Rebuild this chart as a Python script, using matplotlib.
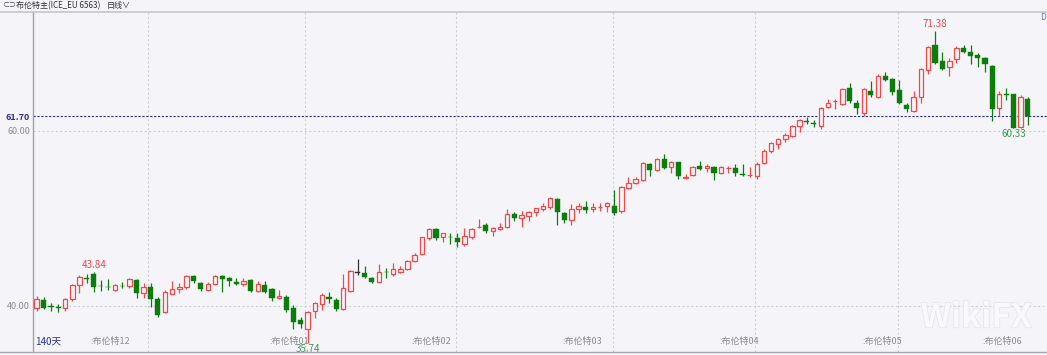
# 布伦特主 日线 K线图
import matplotlib
matplotlib.use("Agg")
import matplotlib.pyplot as plt
import matplotlib.patheffects as pe
import numpy as np

plt.rcParams['font.family'] = ['Noto Sans CJK SC', 'DejaVu Sans']
plt.rcParams['axes.unicode_minus'] = False

# ---- 数据 (140 根日K) ----
opens = [
    39.74, 40.65, 39.96, 39.84, 39.74, 40.76, 42.40, 43.20, 43.62, 42.32,
    42.17, 41.83, 42.32, 42.29, 42.97, 41.45, 42.21, 40.76, 39.28, 41.37,
    41.90, 42.14, 43.43, 42.67, 41.87, 42.48, 43.47, 43.17, 42.70, 42.48,
    42.97, 41.72, 42.40, 41.90, 40.87, 41.07, 39.81, 38.40, 37.37, 39.43,
    40.23, 41.00, 40.69, 39.66, 41.75, 43.81, 43.73, 43.20, 42.78, 43.88,
    43.70, 43.92, 44.19, 45.14, 45.91, 47.73, 48.76, 47.92, 47.88, 47.81,
    47.05, 47.92, 48.97, 49.26, 48.61, 48.80, 48.99, 50.48, 50.10, 50.29,
    50.71, 51.09, 51.27, 52.23, 50.67, 49.83, 51.05, 51.35, 51.05, 51.33,
    51.43, 51.47, 50.89, 53.45, 54.02, 54.40, 56.19, 55.54, 56.76, 55.85,
    56.42, 54.68, 54.97, 56.00, 55.81, 55.92, 55.24, 55.79, 55.81, 55.12,
    54.99, 54.86, 56.30, 57.75, 58.48, 59.05, 59.43, 60.57, 61.18, 60.95,
    60.57, 62.70, 63.45, 63.09, 64.95, 63.24, 62.02, 64.61, 63.92, 66.32,
    65.90, 64.69, 62.97, 62.29, 63.92, 66.97, 69.83, 67.99, 67.28, 68.23,
    69.45, 68.99, 68.69, 68.30, 67.43, 62.59, 64.23, 64.19, 60.42, 63.66,
]
highs = [
    41.18, 40.99, 40.38, 40.19, 40.95, 42.48, 43.54, 43.66, 43.84, 42.97,
    43.09, 42.51, 42.78, 43.16, 43.09, 42.59, 42.59, 41.07, 41.83, 42.86,
    42.67, 43.54, 43.54, 42.78, 42.71, 43.54, 43.54, 43.35, 43.24, 43.24,
    43.09, 42.86, 42.86, 42.02, 41.83, 41.26, 40.11, 38.78, 39.43, 40.50,
    41.45, 41.64, 40.88, 43.62, 44.11, 45.37, 44.57, 43.35, 44.76, 44.30,
    44.95, 44.57, 45.30, 46.10, 47.92, 48.95, 48.95, 48.38, 48.30, 48.30,
    48.88, 48.95, 49.94, 49.45, 49.07, 49.45, 51.05, 50.71, 50.86, 50.86,
    51.24, 51.81, 52.49, 52.30, 50.78, 51.66, 51.81, 52.00, 51.73, 51.73,
    51.92, 53.26, 53.71, 54.70, 54.78, 56.49, 56.30, 56.88, 57.37, 56.57,
    56.49, 55.09, 56.00, 56.61, 56.19, 56.00, 56.00, 56.00, 56.23, 56.23,
    55.92, 56.42, 57.90, 58.78, 59.16, 59.73, 60.69, 61.33, 61.64, 61.26,
    62.70, 63.66, 63.62, 64.88, 65.45, 63.54, 64.95, 65.71, 66.51, 66.71,
    66.02, 65.83, 63.24, 64.57, 67.16, 69.71, 71.38, 69.07, 68.30, 69.71,
    69.83, 69.83, 68.88, 68.50, 67.54, 64.57, 64.88, 64.23, 64.11, 63.85,
]
lows = [
    39.43, 39.66, 39.43, 39.35, 39.47, 40.61, 41.52, 42.67, 41.56, 41.72,
    41.87, 41.72, 42.02, 42.02, 40.88, 40.88, 39.92, 38.78, 39.16, 41.33,
    41.45, 41.94, 42.59, 41.72, 41.72, 42.40, 41.56, 42.33, 42.40, 42.33,
    41.56, 41.56, 41.45, 40.61, 40.80, 39.35, 37.37, 37.45, 35.74, 38.67,
    39.54, 40.31, 39.43, 39.54, 41.64, 43.54, 43.16, 42.59, 42.71, 43.16,
    43.47, 43.73, 44.08, 44.99, 45.83, 47.54, 47.54, 47.28, 47.09, 46.78,
    46.90, 47.66, 48.88, 48.38, 48.04, 48.69, 48.88, 49.71, 49.07, 49.75,
    50.33, 50.90, 51.05, 49.26, 49.45, 49.26, 50.67, 50.59, 50.78, 50.90,
    50.78, 50.40, 50.67, 53.33, 53.90, 54.29, 54.89, 55.43, 55.66, 55.16,
    54.52, 54.48, 54.86, 55.54, 55.35, 54.40, 55.09, 55.16, 54.86, 54.86,
    54.78, 54.48, 56.23, 57.45, 57.90, 58.78, 59.28, 59.92, 60.80, 60.50,
    60.19, 62.59, 62.48, 62.97, 63.16, 61.90, 61.71, 63.85, 63.81, 65.71,
    64.11, 63.09, 62.21, 62.21, 63.24, 66.51, 67.62, 66.97, 66.32, 67.81,
    68.88, 67.66, 67.35, 66.78, 61.18, 61.75, 63.54, 60.33, 60.36, 60.69,
]
closes = [
    40.76, 39.81, 39.88, 39.78, 40.76, 42.40, 43.28, 43.13, 42.21, 42.27,
    42.12, 42.36, 42.28, 43.05, 41.45, 42.21, 40.76, 38.97, 41.57, 41.90,
    42.20, 43.47, 42.86, 41.90, 42.48, 43.47, 43.05, 42.86, 42.55, 42.86,
    41.75, 42.48, 41.64, 40.87, 41.14, 39.55, 38.21, 37.98, 39.28, 40.30,
    41.26, 40.80, 39.66, 42.02, 44.04, 43.81, 43.28, 42.71, 43.92, 43.83,
    44.19, 44.19, 45.18, 45.83, 47.85, 48.76, 47.81, 48.30, 47.83, 47.28,
    48.00, 48.80, 49.00, 48.61, 48.95, 48.99, 50.48, 50.10, 50.40, 50.71,
    51.16, 51.47, 52.38, 50.78, 49.83, 51.09, 51.43, 50.97, 51.27, 51.36,
    51.73, 50.59, 53.56, 54.09, 54.51, 56.30, 55.54, 56.76, 55.81, 56.42,
    54.89, 54.71, 55.85, 55.66, 56.04, 55.24, 55.85, 55.82, 55.24, 54.97,
    55.02, 56.23, 57.75, 58.59, 59.05, 59.54, 60.57, 61.26, 61.03, 60.76,
    62.59, 63.24, 63.48, 64.76, 63.43, 62.67, 64.80, 64.08, 66.32, 65.83,
    64.50, 63.16, 62.48, 63.85, 67.05, 69.56, 67.73, 67.09, 68.04, 69.45,
    69.07, 68.61, 68.38, 67.62, 62.52, 64.23, 64.08, 60.35, 63.92, 61.70,
]

month_labels = ["布伦特12", "布伦特01", "布伦特02", "布伦特03", "布伦特04", "布伦特05", "布伦特06"]
month_pos = [7.5, 32.6, 52.6, 73.7, 95.7, 115.8, 132.7]
grid_x = [15.6, 37.6, 58.8, 80.8, 100.8, 120.8]
y_ticks = [40.0, 60.0]
last_price = 61.70

BG = "#f5f5f9"
RED = "#f24848"
GREEN = "#0a7d0a"
GRAY_TXT = "#8c8c8c"
BLUE = "#2e2e9e"

fig = plt.figure(figsize=(10.47, 3.55), dpi=100, facecolor=BG)
W, H = 1047, 355
ax = fig.add_axes([33 / W, (H - 352) / H, (W - 33) / W, 340 / H])
ax.set_facecolor(BG)

o = np.array(opens)
h = np.array(highs)
l = np.array(lows)
c = np.array(closes)
x = np.arange(len(o))

colors = np.where(c > o, RED, np.where(c < o, GREEN, "#333333"))

# 网格
for gx in grid_x:
    ax.axvline(gx, color="#cfcfd6", lw=0.8, ls=(0, (2, 2)), zorder=0)
for gy in y_ticks:
    ax.axhline(gy, color="#cfcfd6", lw=0.8, ls=(0, (2, 2)), zorder=0)
ax.axhline(last_price, color=BLUE, lw=0.8, ls=(0, (2, 1.5)), zorder=1)

# 影线
ax.vlines(x, l, h, colors=colors, lw=0.9, zorder=2)

# 实体
bottoms = np.minimum(o, c)
heights = np.maximum(np.abs(c - o), 0.03)
up = c > o
ax.bar(x[up], heights[up], bottom=bottoms[up], width=0.62,
       facecolor=BG, edgecolor=RED, linewidth=0.9, zorder=3)
ax.bar(x[~up], heights[~up], bottom=bottoms[~up], width=0.72,
       color=colors[~up], edgecolor=colors[~up], linewidth=0.3, zorder=3)

ax.set_xlim(-0.52, 141.7)
ax.set_ylim(34.74, 73.6)

# 最高/最低标注
i_hi1 = int(np.argmax(h[:30]))
i_lo1 = int(np.argmin(l[:60]))
i_hi2 = int(np.argmax(h))
i_lo2 = 120 + int(np.argmin(l[120:]))
for i in (i_hi1, i_hi2):
    ax.annotate(f"{h[i]:.2f}", (i, h[i]), xytext=(0, 1.5), textcoords="offset points",
                ha="center", va="bottom", fontsize=7, color=RED)
for i in (i_lo1, i_lo2):
    ax.annotate(f"{l[i]:.2f}", (i, l[i]), xytext=(0, -0.5), textcoords="offset points",
                ha="center", va="top", fontsize=7, color="#3a9a4a")

# y 轴刻度
ax.set_yticks(y_ticks + [last_price])
ax.set_yticklabels([f"{v:.2f}" for v in y_ticks] + [f"{last_price:.2f}"], fontsize=6.5)
for lbl, col, wt in zip(ax.get_yticklabels(), [GRAY_TXT, GRAY_TXT, BLUE], ["normal", "normal", "bold"]):
    lbl.set_color(col)
    lbl.set_fontweight(wt)
ax.tick_params(axis="y", length=0, pad=2)
ax.set_xticks([])

for s in ["top", "right", "bottom"]:
    ax.spines[s].set_visible(False)
ax.spines["left"].set_color("#a0a0a8")
ax.spines["left"].set_linewidth(1.0)

# 月份标签
xt = ax.get_xaxis_transform()
for p, lab in zip(month_pos, month_labels):
    ax.text(p, 0.017, ":" + lab, transform=xt, fontsize=6.5, color=GRAY_TXT, ha="left", va="bottom")
ax.text(0.002, 0.017, "140天", transform=ax.transAxes, fontsize=7, color=BLUE, ha="left", va="bottom")

# 水印
ax.text(0.985, 0.1, "WikiFX", transform=ax.transAxes, fontsize=24, color="#f9f9fb",
        ha="right", va="center", fontweight="bold", zorder=5,
        path_effects=[pe.withStroke(linewidth=1.0, foreground="#e4e4ea")])

# 顶部标题栏
fig.add_artist(plt.Line2D([0, 1], [1 - 12 / H, 1 - 12 / H], transform=fig.transFigure, color="#c4c4cc", lw=1.2))
fig.add_artist(plt.Line2D([0, 1], [(H - 352) / H, (H - 352) / H], transform=fig.transFigure, color="#a8a8b0", lw=1.0))
fig.text(2 / W, 1 - 5.5 / H, "⊂⊃", fontsize=5, color="#555555", ha="left", va="center")
fig.text(16 / W, 1 - 5.5 / H, "布伦特主(ICE_EU 6563)", fontsize=5.8, color="#333333", ha="left", va="center")
fig.text(107 / W, 1 - 5.5 / H, "日线∨", fontsize=5.8, color="#333333", ha="left", va="center")
fig.text(1040 / W, 1 - 18 / H, "D", fontsize=6, color="#5a7ad8", ha="left", va="center")

fig.savefig("out.png", dpi=100, facecolor=BG)
